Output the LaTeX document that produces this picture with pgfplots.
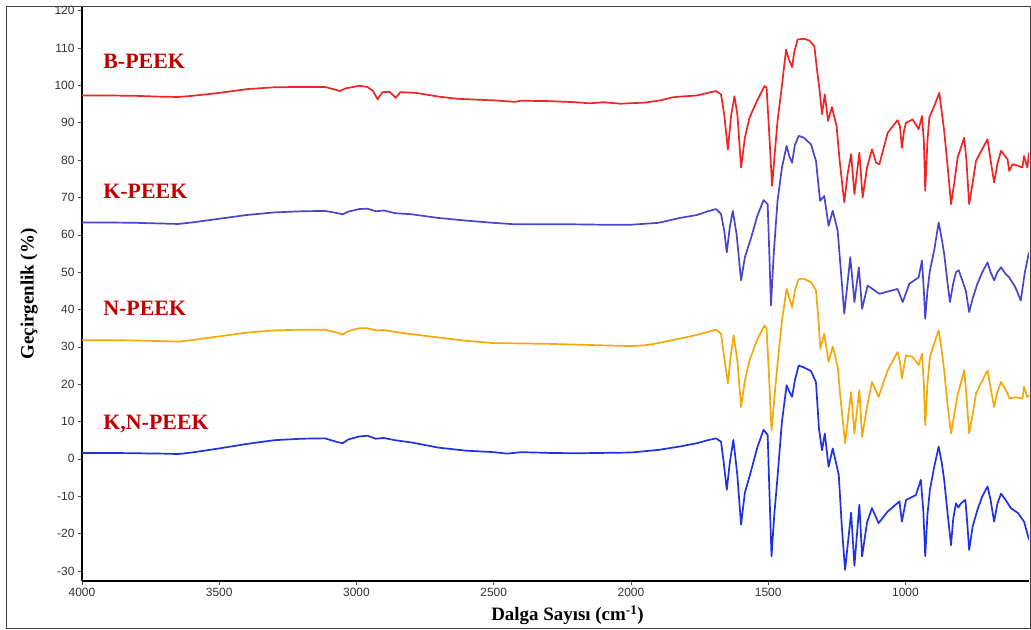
\documentclass[border=0pt]{standalone}
\usepackage{pgfplots}
\pgfplotsset{compat=1.18}
\usepackage{fontspec}
\setmainfont{Liberation Serif}
\newfontfamily\arialf{Liberation Sans}
\definecolor{cB}{RGB}{240,36,36}
\definecolor{cK}{RGB}{70,70,205}
\definecolor{cN}{RGB}{245,168,10}
\definecolor{cKN}{RGB}{30,50,228}
\definecolor{labC}{RGB}{192,0,0}
\pgfplotstableread{
x y
4000 97.3
3900 97.3
3800 97.2
3720 97.0
3650 96.9
3600 97.2
3500 98.0
3400 99.0
3300 99.5
3200 99.6
3115 99.6
3080 98.9
3060 98.5
3040 99.2
2990 99.9
2960 99.6
2940 98.5
2923 96.3
2905 98.2
2880 98.3
2857 96.7
2840 98.2
2784 98.0
2700 97.0
2628 96.4
2500 96.0
2424 95.6
2400 95.9
2300 95.8
2200 95.5
2151 95.2
2100 95.5
2038 95.1
1950 95.4
1892 96.0
1850 96.8
1823 97.0
1760 97.3
1720 98.0
1690 98.5
1672 97.6
1660 92
1647 82.9
1635 92
1623 97.1
1612 92
1599 78.0
1585 86
1568 91.4
1540 96
1514 99.8
1506 99.4
1497 88
1486 73.1
1476 82
1466 90.5
1450 100
1435 109.6
1425 107
1413 104.9
1405 109
1393 112.3
1370 112.5
1350 112.0
1332 110.5
1322 104
1314 99.4
1304 92.3
1294 97.6
1282 90.5
1268 94.2
1251 89.1
1240 80
1223 68.7
1211 76.2
1198 81.6
1186 70.9
1168 82.0
1156 70.0
1140 78
1122 82.9
1107 79.3
1095 78.9
1065 87.3
1029 90.7
1020 89
1013 83.3
1005 88
998 90.0
974 90.9
952 88.3
940 91.8
933 85
928 71.8
920 85
913 91.4
895 94.5
877 98.0
868 93
859 87.8
846 78
834 68.2
822 74
810 80.7
786 86.0
778 80
768 68.2
755 74
743 79.8
720 83
701 85.6
690 80
677 74.0
665 79
652 82.5
628 80.2
622 77.1
610 78.9
590 78.5
574 78.0
568 81.1
556 78.0
550 82
}\tB
\pgfplotstableread{
x y
4000 63.3
3900 63.3
3800 63.2
3700 63.0
3650 62.9
3600 63.3
3500 64.3
3400 65.3
3300 66.0
3200 66.3
3115 66.4
3070 65.8
3050 65.5
3030 66.2
2990 66.9
2960 67.0
2930 66.3
2900 66.5
2860 65.8
2800 65.5
2700 64.5
2600 63.8
2500 63.2
2420 62.8
2300 62.8
2200 62.8
2100 62.7
2000 62.7
1900 63.2
1823 64.5
1760 65.3
1720 66.3
1690 66.9
1672 65.6
1660 61
1651 55.3
1640 62
1629 66.4
1615 60
1599 47.8
1585 54
1562 59.3
1540 65
1517 69.3
1502 68.2
1496 55
1490 41.1
1480 55
1466 69.1
1450 78
1433 83.8
1423 81
1413 79.3
1403 84
1389 86.5
1370 86
1344 84.2
1326 79.8
1318 74
1311 69.1
1296 70.4
1280 62.4
1265 66.4
1247 61.1
1235 50
1223 38.9
1201 54.0
1186 42.0
1170 51.3
1158 40.2
1138 46.4
1120 45.5
1095 44.2
1065 44.8
1029 45.5
1010 42.0
986 46.9
952 48.6
940 53.1
933 45
928 37.5
920 45
911 50.4
895 56
879 63.3
868 59
859 54.9
845 46
838 42.0
826 47
816 50.0
806 50.5
795 48.2
780 45
768 39.3
755 43
738 46.9
720 50
701 52.6
690 50
677 47.8
665 50
652 51.3
635 49.5
622 48.6
600 46
580 42.4
565 50
550 55.3
}\tK
\pgfplotstableread{
x y
4000 31.8
3900 31.8
3800 31.7
3700 31.5
3650 31.4
3600 31.8
3500 32.8
3400 33.8
3300 34.4
3200 34.6
3115 34.6
3070 33.8
3050 33.3
3030 34.2
2990 35.0
2960 35.0
2930 34.4
2900 34.5
2860 34.0
2800 33.4
2700 32.5
2600 31.6
2500 31.0
2400 30.9
2300 30.8
2200 30.6
2100 30.4
2000 30.2
1950 30.4
1900 31.0
1823 32.2
1760 33.2
1720 34.0
1690 34.6
1672 33.5
1660 27
1647 20.2
1636 28
1626 33.1
1612 26
1599 13.9
1585 21
1568 26.4
1540 32
1514 35.7
1506 34.9
1497 22
1488 7.6
1478 16
1466 25.5
1450 37
1433 45.5
1423 43
1413 40.6
1403 45
1389 48.2
1370 48.2
1344 47.3
1326 45.1
1318 38
1310 29.5
1296 33.5
1280 26.0
1265 30.1
1247 24.6
1235 15
1220 4.2
1198 17.9
1186 6.8
1168 18.4
1158 5.9
1140 14
1122 20.6
1098 16.6
1065 23.7
1029 28.6
1020 26
1013 21.5
1005 25
998 27.7
974 27.3
952 25.1
940 28.2
933 20
928 9.0
920 20
911 27.3
895 31
879 34.4
868 29
859 23.7
846 14
834 6.8
822 12
810 17.1
786 23.7
778 17
768 6.8
755 12
743 17.5
720 21
701 23.7
690 19
677 13.9
665 18
652 20.6
628 17.5
622 16.2
600 16.5
574 16.2
568 19.3
556 16.5
550 17.1
}\tN
\pgfplotstableread{
x y
4000 1.6
3900 1.6
3800 1.5
3700 1.4
3650 1.3
3600 1.7
3500 2.8
3400 4.0
3300 5.0
3200 5.4
3115 5.5
3070 4.5
3050 4.2
3030 5.2
2990 6.0
2960 6.2
2930 5.4
2900 5.6
2860 5.0
2800 4.4
2700 3.0
2600 2.2
2500 1.8
2450 1.4
2400 1.8
2300 1.6
2200 1.5
2100 1.6
2000 1.7
1900 2.4
1823 3.3
1760 4.2
1720 5.0
1690 5.5
1672 4.6
1662 -1
1651 -8.3
1640 -1
1627 5.1
1613 -4
1599 -17.6
1585 -9
1568 -4.7
1540 3
1517 7.8
1502 6.4
1496 -8
1488 -26.1
1478 -15
1466 -4.7
1450 10
1433 19.7
1423 18
1413 16.6
1403 21
1389 25.0
1370 24.5
1344 23.5
1326 20.5
1315 8
1304 2.3
1294 6.8
1280 -2.1
1265 2.8
1243 -4.3
1232 -18
1220 -29.7
1198 -14.4
1186 -28.6
1168 -12.3
1158 -26.1
1140 -17
1122 -13.2
1098 -17.2
1065 -14.1
1022 -11.4
1013 -16.8
998 -11.0
962 -9.7
944 -5.6
935 -14
928 -26.1
920 -15
911 -8.3
895 -2
879 3.3
868 -1
859 -5.6
846 -15
834 -23.1
826 -16
816 -11.9
807 -13
798 -11.9
782 -11.0
775 -17
768 -24.4
755 -18
738 -13.7
720 -10
701 -7.4
690 -11
677 -16.8
665 -12
652 -9.3
635 -11
616 -13.2
590 -14.5
568 -16.8
550 -21.6
}\tKN
\begin{document}
\begin{tikzpicture}
\begin{axis}[
  at={(0,0)}, anchor=south west,
  width=947bp, height=574bp, scale only axis,
  xmin=550, xmax=4000, x dir=reverse,
  ymin=-32.7, ymax=121,
  enlargelimits=false,
  axis x line*=bottom, axis y line*=left,
  axis line style={line width=2.4bp, black},
  xtick={1000,1500,...,4000},
  ytick={-30,-20,...,120},
  tick align=outside, major tick length=4bp,
  tick style={black!70, line width=0.6bp},
  /pgf/number format/1000 sep={},
  /pgf/number format/assume math mode=true,
  ticklabel style={font=\arialf\fontsize{12}{12}\selectfont, text=black!80},
  xlabel={\textbf{Dalga Sayısı (cm\textsuperscript{-1})}},
  ylabel={\textbf{Geçirgenlik (\%)}},
  label style={font=\fontsize{19}{19}\selectfont},
  xlabel style={yshift=-2bp, xshift=12bp},
  ylabel style={yshift=10bp},
  every axis plot/.append style={line width=1.7bp, line join=round},
]
\addplot[cB] table[x=x,y=y] {\tB};
\addplot[cK] table[x=x,y=y] {\tK};
\addplot[cN] table[x=x,y=y] {\tN};
\addplot[cKN] table[x=x,y=y] {\tKN};
\node[anchor=west, text=labC, font=\bfseries\fontsize{22}{22}\selectfont] at (axis cs:3935,106.5) {B-PEEK};
\node[anchor=west, text=labC, font=\bfseries\fontsize{22}{22}\selectfont] at (axis cs:3935,71.7) {K-PEEK};
\node[anchor=west, text=labC, font=\bfseries\fontsize{22}{22}\selectfont] at (axis cs:3935,40.3) {N-PEEK};
\node[anchor=west, text=labC, font=\bfseries\fontsize{22}{22}\selectfont] at (axis cs:3935,9.3) {K,N-PEEK};
\end{axis}
\draw[black!75, line width=0.9bp] (-76bp,-47bp) rectangle (948bp,575bp);
\useasboundingbox (-82bp,-49bp) rectangle (949bp,581bp);
\end{tikzpicture}
\end{document}
